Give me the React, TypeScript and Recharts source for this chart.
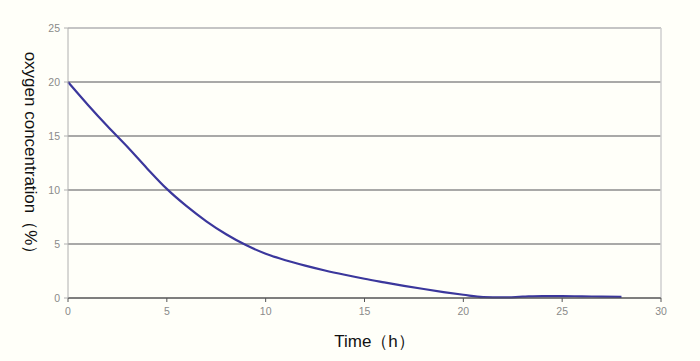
import React from 'react';
import { LineChart, Line, XAxis, YAxis, CartesianGrid, ReferenceLine } from 'recharts';

const hours = [0, 1, 2, 3, 4, 5, 6, 7, 8, 9, 10, 11, 12, 13, 14, 15, 16, 17, 18, 19, 20, 21, 22, 23, 24, 25, 26, 27, 28];
const oxygen = [20, 17.9, 15.9, 14.0, 12.0, 10.1, 8.5, 7.1, 5.9, 4.9, 4.1, 3.5, 3.0, 2.55, 2.15, 1.78, 1.45, 1.13, 0.83, 0.55, 0.3, 0.08, 0.05, 0.12, 0.18, 0.18, 0.15, 0.13, 0.1];
const xTicks = [0, 5, 10, 15, 20, 25, 30];
const yTicks = [0, 5, 10, 15, 20, 25];

const data = hours.map((h, i) => ({ h, o2: oxygen[i] }));

const font = 'Liberation Sans, Arial, sans-serif';
const tickStyle = { fill: '#8a8a8a', fontSize: 10.5, fontFamily: font };

export default function App() {
  return (
    <div style={{ position: 'absolute', left: 0, top: 0, width: 700, height: 361, background: '#fffff9' }}>
      <LineChart width={700} height={361} data={data} margin={{ top: 28, right: 39, left: 0, bottom: 0 }}>
        <CartesianGrid vertical={false} stroke="#8c8c8c" strokeWidth={1.3} />
        <XAxis
          dataKey="h"
          type="number"
          domain={[0, 30]}
          ticks={xTicks}
          height={63}
          stroke="#555"
          tick={tickStyle}
          tickSize={4}
          tickMargin={6}
          label={{ value: 'Time（h）', position: 'insideBottom', offset: 14, dx: 10, fill: '#111', fontSize: 17, fontFamily: font }}
        />
        <YAxis
          width={68}
          domain={[0, 25]}
          ticks={yTicks}
          stroke="#b0b0b0"
          tick={tickStyle}
          tickSize={4}
          tickMargin={4}
          label={{ value: 'oxygen concentration（%）', angle: 90, position: 'insideLeft', offset: 31, dy: -6, fill: '#111', fontSize: 17, fontFamily: font, style: { textAnchor: 'middle' } }}
        />
        <ReferenceLine y={25} stroke="#cfcfcf" strokeWidth={1.5} />
        <ReferenceLine x={30} stroke="#cfcfcf" strokeWidth={1.5} />
        <Line type="monotone" dataKey="o2" stroke="#3b379c" strokeWidth={2.2} dot={false} isAnimationActive={false} />
      </LineChart>
    </div>
  );
}
